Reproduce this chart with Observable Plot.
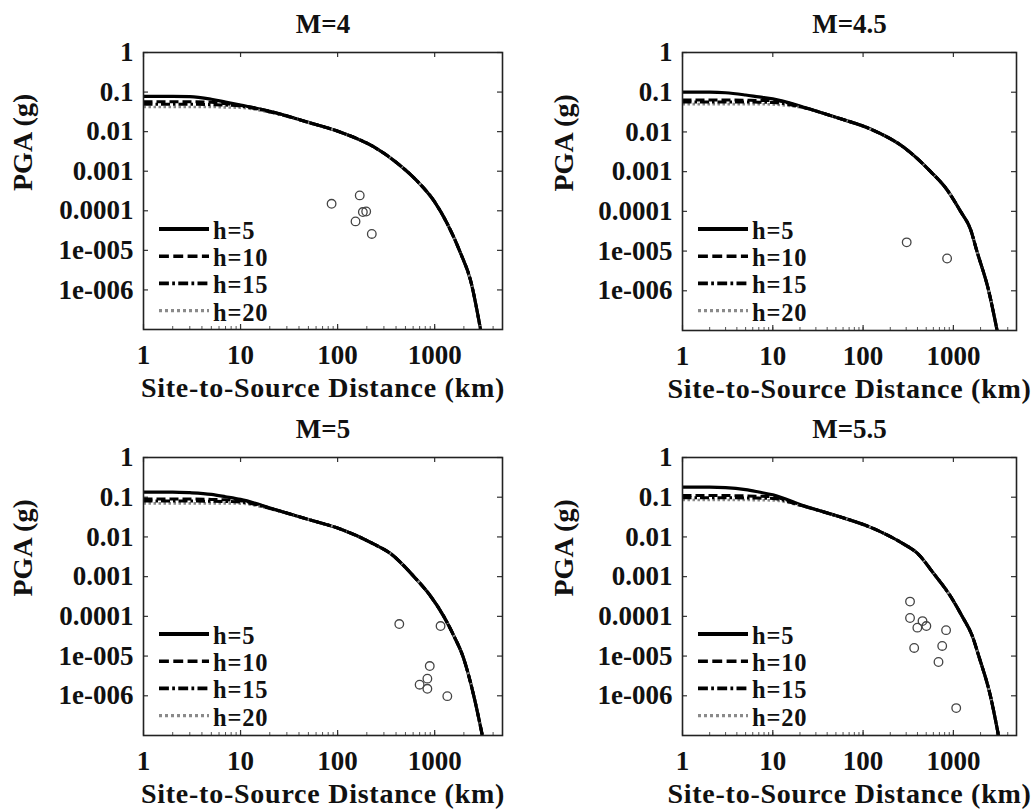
<!DOCTYPE html>
<html><head><meta charset="utf-8">
<script src="https://cdn.jsdelivr.net/npm/d3@7"></script>
<script src="https://cdn.jsdelivr.net/npm/@observablehq/plot@0.6"></script>
<style>
body{margin:0;background:#fff;}
#wrap{position:relative;width:1032px;height:811px;overflow:hidden;background:#fff;}
.panel{position:absolute;}
.legend{position:absolute;overflow:visible;}
</style></head><body><div id="wrap"></div>
<script>
// ---------- data ----------
const titles = ["M=4", "M=4.5", "M=5", "M=5.5"];
const seriesNames = ["h=5", "h=10", "h=15", "h=20"];
const xTickValues = [1, 10, 100, 1000];
const xTickLabels = ["1", "10", "100", "1000"];
const yTickValues = [1, 0.1, 0.01, 0.001, 0.0001, 1e-5, 1e-6];
const yTickLabels = ["1", "0.1", "0.01", "0.001", "0.0001", "1e-005", "1e-006"];
const xLabel = "Site-to-Source Distance (km)";
const yLabel = "PGA (g)";

// M=4
const d_M4    = [1, 2, 3, 5, 7, 10, 22, 49, 107, 237, 412, 662, 980, 1350, 1860, 2350, 2970];
const h5_M4   = [0.078, 0.078, 0.077, 0.066, 0.056, 0.047, 0.031, 0.0174, 0.0097, 0.0041, 0.0016, 5.6e-4, 1.8e-4, 4.7e-5, 8.2e-6, 1.7e-6, 1e-7];
const h10_M4  = [0.057, 0.057, 0.057, 0.055, 0.051, 0.046, 0.031, 0.0174, 0.0097, 0.0041, 0.0016, 5.6e-4, 1.8e-4, 4.7e-5, 8.2e-6, 1.7e-6, 1e-7];
const h15_M4  = [0.049, 0.049, 0.049, 0.048, 0.047, 0.044, 0.030, 0.0174, 0.0097, 0.0041, 0.0016, 5.6e-4, 1.8e-4, 4.7e-5, 8.2e-6, 1.7e-6, 1e-7];
const h20_M4  = [0.042, 0.042, 0.042, 0.042, 0.041, 0.040, 0.029, 0.0172, 0.0097, 0.0041, 0.0016, 5.6e-4, 1.8e-4, 4.7e-5, 8.2e-6, 1.7e-6, 1e-7];
const obsD_M4 = [86.7, 169, 153, 182, 197, 225];
const obsP_M4 = [1.5e-4, 2.45e-4, 5.4e-5, 9.3e-5, 9.6e-5, 2.6e-5];

// M=4.5
const d_M45   = [1, 2, 3, 5, 7, 10, 22, 51, 121, 282, 560, 850, 1200, 1550, 1820, 2460, 3050];
const h5_M45  = [0.10, 0.10, 0.097, 0.085, 0.076, 0.068, 0.042, 0.023, 0.0118, 0.0041, 0.001, 3.5e-4, 1e-4, 3.5e-5, 1e-5, 1e-6, 1e-7];
const h10_M45 = [0.064, 0.064, 0.064, 0.063, 0.062, 0.062, 0.041, 0.023, 0.0118, 0.0041, 0.001, 3.5e-4, 1e-4, 3.5e-5, 1e-5, 1e-6, 1e-7];
const h15_M45 = [0.057, 0.057, 0.057, 0.057, 0.056, 0.055, 0.041, 0.023, 0.0118, 0.0041, 0.001, 3.5e-4, 1e-4, 3.5e-5, 1e-5, 1e-6, 1e-7];
const h20_M45 = [0.050, 0.050, 0.050, 0.050, 0.050, 0.049, 0.040, 0.0228, 0.0118, 0.0041, 0.001, 3.5e-4, 1e-4, 3.5e-5, 1e-5, 1e-6, 1e-7];
const obsD_M45 = [304, 852];
const obsP_M45 = [1.66e-5, 6.5e-6];

// M=5
const d_M5    = [1, 2, 3, 5, 7, 10, 22, 49, 107, 237, 352, 612, 910, 1240, 1580, 1950, 2530, 3100];
const h5_M5   = [0.135, 0.135, 0.13, 0.118, 0.103, 0.088, 0.050, 0.028, 0.0158, 0.0066, 0.0038, 0.001, 3.2e-4, 1e-4, 3.2e-5, 1e-5, 1e-6, 1e-7];
const h10_M5  = [0.090, 0.090, 0.090, 0.088, 0.086, 0.082, 0.050, 0.028, 0.0158, 0.0066, 0.0038, 0.001, 3.2e-4, 1e-4, 3.2e-5, 1e-5, 1e-6, 1e-7];
const h15_M5  = [0.080, 0.080, 0.080, 0.079, 0.078, 0.076, 0.049, 0.028, 0.0158, 0.0066, 0.0038, 0.001, 3.2e-4, 1e-4, 3.2e-5, 1e-5, 1e-6, 1e-7];
const h20_M5  = [0.070, 0.070, 0.070, 0.070, 0.070, 0.069, 0.048, 0.0277, 0.0158, 0.0066, 0.0038, 0.001, 3.2e-4, 1e-4, 3.2e-5, 1e-5, 1e-6, 1e-7];
const obsD_M5 = [432, 1150, 890, 841, 700, 841, 1350];
const obsP_M5 = [6.4e-5, 5.7e-5, 5.6e-6, 2.7e-6, 1.9e-6, 1.5e-6, 9.8e-7];

// M=5.5
const d_M55   = [1, 2, 3, 5, 7, 10, 22, 51, 121, 282, 398, 605, 930, 1250, 1620, 1910, 2570, 3160];
const h5_M55  = [0.18, 0.18, 0.175, 0.155, 0.135, 0.115, 0.061, 0.034, 0.0174, 0.0066, 0.0039, 0.0012, 3.2e-4, 1e-4, 3.2e-5, 1e-5, 1e-6, 1e-7];
const h10_M55 = [0.110, 0.110, 0.110, 0.108, 0.106, 0.102, 0.060, 0.034, 0.0174, 0.0066, 0.0039, 0.0012, 3.2e-4, 1e-4, 3.2e-5, 1e-5, 1e-6, 1e-7];
const h15_M55 = [0.097, 0.097, 0.097, 0.096, 0.095, 0.093, 0.059, 0.034, 0.0174, 0.0066, 0.0039, 0.0012, 3.2e-4, 1e-4, 3.2e-5, 1e-5, 1e-6, 1e-7];
const h20_M55 = [0.085, 0.085, 0.085, 0.085, 0.084, 0.083, 0.058, 0.0336, 0.0174, 0.0066, 0.0039, 0.0012, 3.2e-4, 1e-4, 3.2e-5, 1e-5, 1e-6, 1e-7];
const obsD_M55 = [331, 331, 399, 455, 502, 368, 830, 752, 684, 1075];
const obsP_M55 = [2.35e-4, 9.1e-5, 5.2e-5, 7.6e-5, 5.7e-5, 1.6e-5, 4.5e-5, 1.8e-5, 7.1e-6, 4.9e-7];

// ---------- styling / layout ----------
const FONT = "'Liberation Serif','Times New Roman',serif";
const lineStyles = [
  {stroke: "#000", strokeWidth: 3.2, dash: null},
  {stroke: "#000", strokeWidth: 3, dash: "9,4"},
  {stroke: "#000", strokeWidth: 3, dash: "9,3,2.5,3"},
  {stroke: "#8a8a8a", strokeWidth: 2.6, dash: "2.5,2.5"}
];
const panels = [
  {title: titles[0], d: d_M4,  s: [h5_M4, h10_M4, h15_M4, h20_M4],     oD: obsD_M4,  oP: obsP_M4,  left: 0,   top: 0,   w: 516, h: 405, ml: 143, mr: 14, mt: 52, mb: 76, ylx: -120},
  {title: titles[1], d: d_M45, s: [h5_M45, h10_M45, h15_M45, h20_M45], oD: obsD_M45, oP: obsP_M45, left: 516, top: 0,   w: 516, h: 405, ml: 166, mr: 16, mt: 52, mb: 75, ylx: -118},
  {title: titles[2], d: d_M5,  s: [h5_M5, h10_M5, h15_M5, h20_M5],     oD: obsD_M5,  oP: obsP_M5,  left: 0,   top: 405, w: 516, h: 406, ml: 143, mr: 14, mt: 52, mb: 76, ylx: -120},
  {title: titles[3], d: d_M55, s: [h5_M55, h10_M55, h15_M55, h20_M55], oD: obsD_M55, oP: obsP_M55, left: 516, top: 405, w: 516, h: 406, ml: 166, mr: 16, mt: 52, mb: 76, ylx: -118}
];

// tick positions (axis decoration only)
const xMinor = [];
for (const dec of [1, 10, 100, 1000]) for (let k = 1; k <= 9; k++) { const v = k * dec; if (v <= 5000) xMinor.push(v); }

const wrap = document.getElementById("wrap");
const drawOrder = [0, 3, 2, 1];

panels.forEach(p => {
  const innerW = p.w - p.ml - p.mr;
  const innerH = p.h - p.mt - p.mb;
  const lineMarks = drawOrder.map(si => {
    const st = lineStyles[si];
    const rows = p.d.map((d, i) => ({d, v: p.s[si][i]}));
    return Plot.line(rows, {x: "d", y: "v", stroke: st.stroke, strokeWidth: st.strokeWidth,
      strokeDasharray: st.dash, curve: "monotone-x", clip: true, strokeLinecap: "butt"});
  });
  const obs = p.oD.map((d, i) => ({d, v: p.oP[i]}));
  const chart = Plot.plot({
    width: p.w, height: p.h,
    marginLeft: p.ml, marginRight: p.mr, marginTop: p.mt, marginBottom: p.mb,
    style: {fontFamily: FONT, fontWeight: "bold", fontSize: "27px", color: "#111", background: "transparent"},
    x: {type: "log", domain: [1, 5000]},
    y: {type: "log", domain: [1e-7, 1]},
    marks: [
      Plot.axisX(xTickValues, {tickSize: 0, tickPadding: 15, tickFormat: v => xTickLabels[xTickValues.indexOf(v)], label: null, fontSize: 27}),
      Plot.axisY(yTickValues, {tickSize: 0, tickPadding: 10, tickFormat: v => yTickLabels[yTickValues.indexOf(v)], label: null, fontSize: 27}),
      // inward tick marks
      Plot.tickX(xMinor, {x: v => v, insetTop: innerH - 3, stroke: "#555", strokeWidth: 1}),
      Plot.tickX(xTickValues, {x: v => v, insetTop: innerH - 5, stroke: "#333", strokeWidth: 1.2}),
      Plot.tickX(xTickValues, {x: v => v, insetBottom: innerH - 5, stroke: "#333", strokeWidth: 1.2}),
      Plot.tickY(yTickValues, {y: v => v, insetRight: innerW - 5, stroke: "#333", strokeWidth: 1.2}),
      Plot.tickY(yTickValues, {y: v => v, insetLeft: innerW - 5, stroke: "#333", strokeWidth: 1.2}),
      ...lineMarks,
      Plot.dot(obs, {x: "d", y: "v", r: 4.3, stroke: "#444", strokeWidth: 1.3, fill: "none"}),
      Plot.frame({stroke: "#222", strokeWidth: 1.6}),
      Plot.text([p.title], {text: d => d, frameAnchor: "top", lineAnchor: "middle", dy: -28.5, fontSize: 27, fill: "#111"}),
      Plot.text([xLabel], {text: d => d, frameAnchor: "bottom", lineAnchor: "middle", dy: 59, fontSize: 28, fill: "#111"}),
      Plot.text([yLabel], {text: d => d, frameAnchor: "left", lineAnchor: "middle", dx: p.ylx, rotate: -90, fontSize: 28, fill: "#111"})
    ]
  });
  // slight letter spacing on the x label, as in the reference
  d3.select(chart).selectAll("text").filter(function() { return this.textContent === xLabel; })
    .attr("letter-spacing", "0.75px");
  chart.classList.add("panel");
  chart.style.left = p.left + "px";
  chart.style.top = p.top + "px";
  wrap.appendChild(chart);

  // legend (inside the frame, lower-left)
  const lg = d3.create("svg").attr("class", "legend").attr("width", 140).attr("height", 112)
    .style("left", (p.left + p.ml + 14) + "px").style("top", (p.top + p.mt + 162) + "px");
  const rowY = [15, 42.2, 69.4, 96.6];
  seriesNames.forEach((name, i) => {
    const st = lineStyles[i];
    lg.append("line").attr("x1", 2).attr("x2", 52).attr("y1", rowY[i]).attr("y2", rowY[i])
      .attr("stroke", st.stroke).attr("stroke-width", i === 0 ? 4 : st.strokeWidth + 0.6)
      .attr("stroke-dasharray", st.dash ? (i === 3 ? "3,3" : st.dash.split(",").map(v => +v * 1.1).join(",")) : null);
    lg.append("text").attr("x", 56).attr("y", rowY[i] + 10).text(name)
      .attr("font-family", FONT).attr("font-weight", "bold").attr("font-size", 24.5)
      .attr("letter-spacing", "0.8px").attr("fill", "#111");
  });
  wrap.appendChild(lg.node());
});
</script>
</body></html>
